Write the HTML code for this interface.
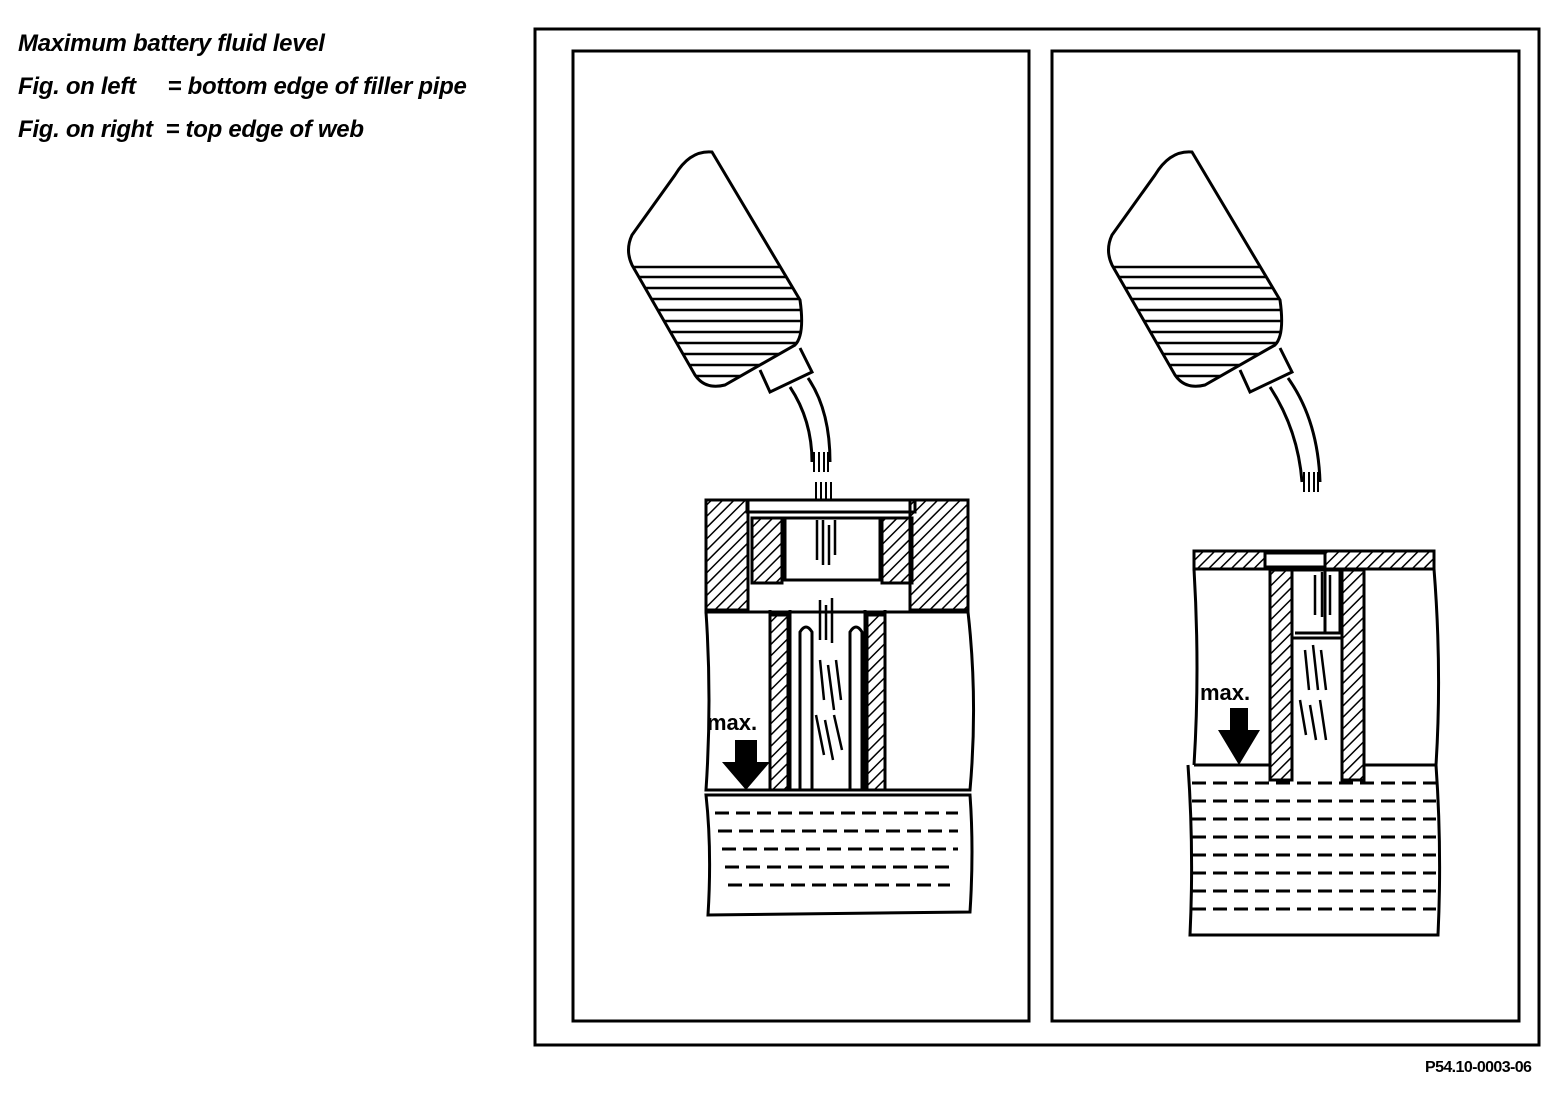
<!DOCTYPE html>
<html><head><meta charset="utf-8"><style>
body{margin:0;background:#fff;}
.t{position:absolute;font-family:"Liberation Sans",sans-serif;font-weight:bold;font-style:italic;font-size:24px;letter-spacing:-0.3px;white-space:pre;color:#000}
</style></head><body>
<div style="position:relative;width:1568px;height:1106px;overflow:hidden">
<div class="t" style="left:18px;top:30px">Maximum battery fluid level</div>
<div class="t" style="left:18px;top:73px">Fig. on left     = bottom edge of filler pipe</div>
<div class="t" style="left:18px;top:116px">Fig. on right  = top edge of web</div>
<div class="t" style="left:1425px;top:1059px;font-size:16px;letter-spacing:-0.6px;font-style:normal">P54.10-0003-06</div>
<svg width="1568" height="1106" style="position:absolute;left:0;top:0" fill="none" stroke="#000">
<defs>
<clipPath id="b1"><path d="M712,152 Q690,150 675,175 L632,235 Q625,250 632,265 L695,375 Q705,390 725,385 L795,345 Q805,335 800,300 Z"/></clipPath>
<pattern id="hatch" width="8" height="8" patternUnits="userSpaceOnUse" patternTransform="rotate(45)"><line x1="0" y1="0" x2="0" y2="8" stroke="#000" stroke-width="3"/></pattern>
</defs>
<rect x="535" y="29" width="1004" height="1016" stroke-width="3"/>
<rect x="573" y="51" width="456" height="970" stroke-width="3"/>
<rect x="1052" y="51" width="467" height="970" stroke-width="3"/>

<g stroke-width="3">
<path d="M712,152 Q690,150 675,175 L632,235 Q625,250 632,265 L695,375 Q705,390 725,385 L795,345 Q805,335 800,300 Z"/>
<g clip-path="url(#b1)" stroke-width="2.5">
<line x1="620" y1="267" x2="820" y2="267"/><line x1="620" y1="277" x2="820" y2="277"/><line x1="620" y1="288" x2="820" y2="288"/><line x1="620" y1="299" x2="820" y2="299"/><line x1="620" y1="310" x2="820" y2="310"/><line x1="620" y1="321" x2="820" y2="321"/><line x1="620" y1="332" x2="820" y2="332"/><line x1="620" y1="343" x2="820" y2="343"/><line x1="620" y1="354" x2="820" y2="354"/><line x1="620" y1="365" x2="820" y2="365"/><line x1="620" y1="376" x2="820" y2="376"/>
</g>
<path d="M760,370 L770,392 L812,372 L800,348"/>
<path d="M790,387 Q812,420 812,462 M808,378 Q830,410 830,462"/>
</g>
<g stroke-width="2"><path d="M814,452 v20 M819,452 v20 M824,452 v20 M828,452 v20 M816,482 v18 M821,482 v18 M826,482 v18 M831,482 v18"/></g>

<g stroke-width="3">
<path d="M706,500 L968,500 L968,612 L706,612 Z"/>
<rect x="747" y="500" width="168" height="12" fill="#fff"/>
<path d="M706,500 h42 v110 h-42 z M910,500 h58 v110 h-58 z" fill="url(#hatch)"/>
<path d="M752,518 h30 v65 h-30 z M882,518 h30 v65 h-30z" fill="url(#hatch)"/>
<rect x="785" y="518" width="95" height="62" fill="#fff"/>
<path d="M706,612 Q712,700 706,790 L970,790 Q978,700 968,612"/>
<path d="M770,610 L770,790 M790,610 L790,790 M865,610 L865,790 M885,610 L885,790"/>
<rect x="770" y="615" width="18" height="175" fill="url(#hatch)"/>
<rect x="867" y="615" width="18" height="175" fill="url(#hatch)"/>
<path d="M800,790 V632 Q806,622 812,632 V790 M850,790 V632 Q856,622 862,632 V790"/>
<path d="M706,795 L970,795 Q974,850 970,912 L708,915 Q712,850 706,795 Z"/>
</g>
<g stroke-width="3" stroke-dasharray="14,7">
<line x1="715" y1="813" x2="958" y2="813"/><line x1="718" y1="831" x2="958" y2="831"/><line x1="722" y1="849" x2="958" y2="849"/><line x1="725" y1="867" x2="950" y2="867"/><line x1="728" y1="885" x2="950" y2="885"/>
</g>
<g stroke-width="2.5"><path d="M817,520 v40 M823,520 v45 M829,525 v40 M835,520 v35 M820,600 v40 M826,605 v35 M832,598 v45 M820,660 l4,40 M828,665 l6,45 M836,660 l5,40 M816,715 l8,40 M825,720 l8,40 M834,715 l8,35"/></g>
<text x="707" y="730" font-family="Liberation Sans,sans-serif" font-weight="bold" font-size="22" fill="#000" stroke="none">max.</text>
<path d="M735,740 h22 v22 h13 l-24,28 l-24,-28 h13 z" fill="#000" stroke="none"/>

<g transform="translate(480,0)">
<g stroke-width="3">
<path d="M712,152 Q690,150 675,175 L632,235 Q625,250 632,265 L695,375 Q705,390 725,385 L795,345 Q805,335 800,300 Z"/>
<g clip-path="url(#b1)" stroke-width="2.5">
<line x1="620" y1="267" x2="820" y2="267"/><line x1="620" y1="277" x2="820" y2="277"/><line x1="620" y1="288" x2="820" y2="288"/><line x1="620" y1="299" x2="820" y2="299"/><line x1="620" y1="310" x2="820" y2="310"/><line x1="620" y1="321" x2="820" y2="321"/><line x1="620" y1="332" x2="820" y2="332"/><line x1="620" y1="343" x2="820" y2="343"/><line x1="620" y1="354" x2="820" y2="354"/><line x1="620" y1="365" x2="820" y2="365"/><line x1="620" y1="376" x2="820" y2="376"/>
</g>
<path d="M760,370 L770,392 L812,372 L800,348"/>
<path d="M790,387 Q818,430 822,482 M808,378 Q838,420 840,482"/>
</g>
<g stroke-width="2"><path d="M824,472 v20 M829,472 v20 M834,472 v20 M838,472 v20"/></g>
</g>

<g stroke-width="3">
<path d="M1194,551 h240 v18 h-240 z" fill="url(#hatch)"/>
<rect x="1265" y="553" width="60" height="14" fill="#fff"/>
<path d="M1194,569 Q1200,670 1194,765 M1434,569 Q1442,670 1436,765"/>
<path d="M1270,570 h22 v210 h-22 z M1342,570 h22 v210 h-22 z" fill="url(#hatch)"/>
<path d="M1292,570 h50 v68 h-50 z" fill="#fff"/>
<path d="M1305,568 h20 v65 M1340,568 v65 h-45"/>
<path d="M1194,765 H1270 M1364,765 H1436 Q1442,850 1438,935 L1190,935 Q1194,850 1188,765"/>
</g>
<g stroke-width="3" stroke-dasharray="14,7">
<line x1="1192" y1="783" x2="1436" y2="783"/><line x1="1192" y1="801" x2="1436" y2="801"/><line x1="1192" y1="819" x2="1436" y2="819"/><line x1="1192" y1="837" x2="1436" y2="837"/><line x1="1192" y1="855" x2="1436" y2="855"/><line x1="1192" y1="873" x2="1436" y2="873"/><line x1="1192" y1="891" x2="1436" y2="891"/><line x1="1192" y1="909" x2="1436" y2="909"/>
</g>
<g stroke-width="2.5"><path d="M1315,575 v40 M1322,572 v45 M1330,575 v40 M1305,650 l4,40 M1313,645 l5,45 M1321,650 l5,40 M1300,700 l6,35 M1310,705 l6,35 M1320,700 l6,40"/></g>
<text x="1200" y="700" font-family="Liberation Sans,sans-serif" font-weight="bold" font-size="22" fill="#000" stroke="none">max.</text>
<path d="M1230,708 h18 v22 h12 l-21,35 l-21,-35 h12 z" fill="#000" stroke="none"/>
</svg>
</div>
</body></html>
